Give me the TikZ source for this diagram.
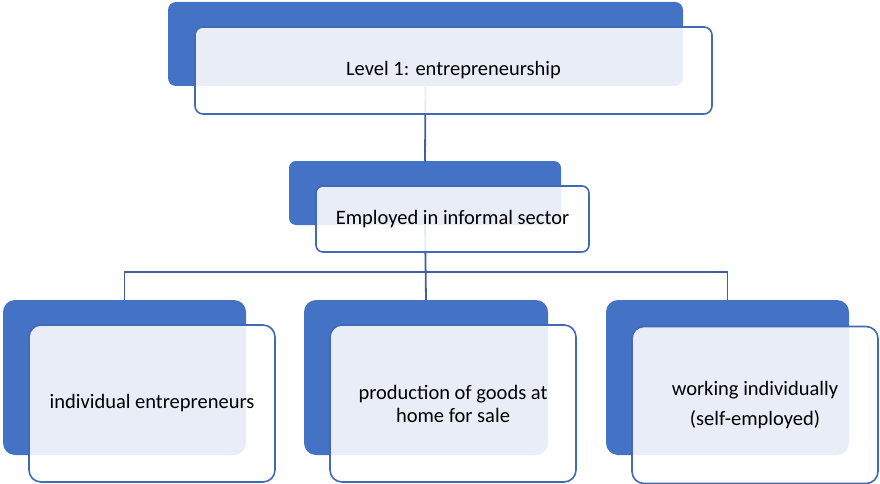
\documentclass[tikz,border=0pt]{standalone}
\usepackage{fontspec}
\setmainfont{Carlito}
\definecolor{offblue}{HTML}{4472C4}
\definecolor{edgeblue}{HTML}{4169B4}
\definecolor{linkblue}{HTML}{3E609F}
\tikzset{
  backbox/.style={draw=none, fill=offblue, inner sep=0pt, outer sep=0pt},
  frontbox/.style={draw=edgeblue, line width=1.6pt, fill=white, fill opacity=0.88, text opacity=1, inner sep=0pt, outer sep=0pt, align=center, font=\fontsize{20.5}{23}\selectfont},
  link/.style={draw=linkblue, line width=1.8pt},
}
\begin{document}
\begin{tikzpicture}[x=1pt, y=-1pt]
\useasboundingbox (0,0) rectangle (880,484);
% back (blue) boxes
\node[backbox, rounded corners=8pt, minimum width=515pt, minimum height=84pt] (b1) at (425.5,44) {};
\node[backbox, rounded corners=7pt, minimum width=272pt, minimum height=64pt] (b2) at (425,193) {};
\node[backbox, rounded corners=12pt, minimum width=243pt, minimum height=155pt] (c1) at (124.5,377.5) {};
\node[backbox, rounded corners=12pt, minimum width=244pt, minimum height=155pt] (c2) at (426,377.5) {};
\node[backbox, rounded corners=12pt, minimum width=243pt, minimum height=155pt] (c3) at (727.5,377.5) {};
% connectors
\draw[link] (b1.south) -- (b2.north);
\draw[link] (b2.south) -- (c2.north);
\draw[link] (c1.north) -- ++(0,-28) coordinate (barL) -| (c3.north);
% front boxes
\node[frontbox, rounded corners=8pt, minimum width=517pt, minimum height=87pt] (f1) at (453.5,70.5) {Level 1: entrepreneurship};
\node[frontbox, rounded corners=7pt, minimum width=273pt, minimum height=66pt] (f2) at (452.5,219) {Employed in informal sector};
\node[frontbox, rounded corners=12pt, minimum width=246pt, minimum height=157pt] (g1) at (152,403.5) {individual entrepreneurs};
\node[frontbox, rounded corners=12pt, minimum width=246pt, minimum height=157pt] (g2) at (453,403.5) {production of goods at\\home for sale};
\node[frontbox, rounded corners=12pt, minimum width=246pt, minimum height=157pt, font=\fontsize{20.5}{30}\selectfont] (g3) at (755,405) {working individually\\(self-employed)};
\end{tikzpicture}
\end{document}
